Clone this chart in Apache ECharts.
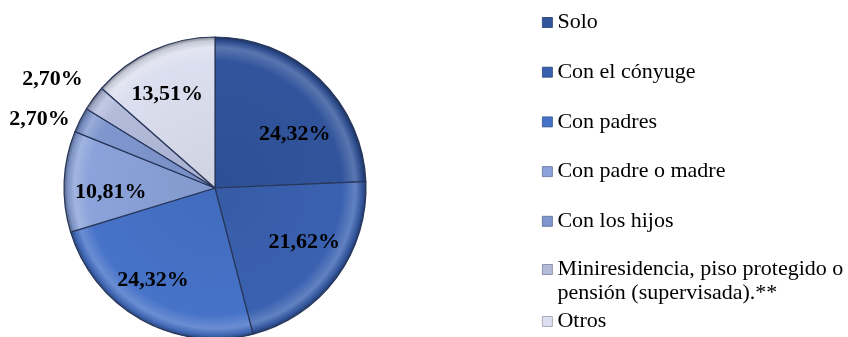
<!DOCTYPE html>
<html>
<head>
<meta charset="utf-8">
<script src="https://cdn.jsdelivr.net/npm/echarts@6/dist/echarts.min.js"></script>
<style>
  html, body { margin: 0; padding: 0; background: #ffffff; }
  #chart { width: 848px; height: 337px; }
</style>
</head>
<body>
<div id="chart"></div>
<script>
// Living arrangement categories and their shares (%)
const categories = [
  'Solo',
  'Con el cónyuge',
  'Con padres',
  'Con padre o madre',
  'Con los hijos',
  'Miniresidencia, piso protegido o\npensión (supervisada).**',
  'Otros'
];
const shares = [24.32, 21.62, 24.32, 10.81, 2.70, 2.70, 13.51];
const sliceColors = ['#31549c', '#3a61b0', '#4672c8', '#8ba3da', '#7f97cf', '#b3bbdb', '#dcdfef'];

// Label placement around the pie: angular nudge (deg) and reach (fraction of radius)
const labelAngleShift = [11.8, -5.5, 5.1, -4.4, -5.1, -2.4, -2.6];
const labelReach = [0.64, 0.69, 0.73, 0.69, 1.25, 1.30, 0.70];

const CX = 215, CY = 188, R = 151;

function shade(hex, amt) {
  const n = parseInt(hex.slice(1), 16);
  let r = (n >> 16) & 255, g = (n >> 8) & 255, b = n & 255;
  const f = (c) => Math.max(0, Math.min(255, Math.round(amt >= 0 ? c + (255 - c) * amt : c * (1 + amt))));
  return 'rgb(' + f(r) + ',' + f(g) + ',' + f(b) + ')';
}

// mid-angle of each slice, clockwise from 12 o'clock
const total = shares.reduce((a, b) => a + b, 0);
const midAngles = [];
let acc = 0;
shares.forEach(v => { midAngles.push((acc + v / 2) / total * 360); acc += v; });

// bevelled fill: slightly darker core, light rim, dark outer edge
const pieData = categories.map((name, i) => ({
  name: name,
  value: shares[i],
  itemStyle: {
    color: {
      type: 'radial', x: CX, y: CY, r: R, global: true,
      colorStops: [
        { offset: 0, color: shade(sliceColors[i], -0.06) },
        { offset: 0.84, color: sliceColors[i] },
        { offset: 0.93, color: shade(sliceColors[i], 0.2) },
        { offset: 0.975, color: shade(sliceColors[i], -0.1) },
        { offset: 1, color: shade(sliceColors[i], -0.4) }
      ]
    }
  }
}));

// legend swatches use the flat slice colour
const legendItems = categories.map((name, i) => ({
  name: name,
  itemStyle: { color: sliceColors[i], borderColor: shade(sliceColors[i], -0.3), borderWidth: 0.8 }
}));

const chart = echarts.init(document.getElementById('chart'), null, { renderer: 'canvas' });

const legendText = {
  fontFamily: 'Liberation Serif',
  fontSize: 22,
  lineHeight: 24,
  color: '#000000'
};

// the two-line entry gets an empty first line so its swatch sits beside the first text line
const legendFormatter = (name) => (name === categories[5] ? '\n' + name : name);

chart.setOption({
  animation: false,
  backgroundColor: '#ffffff',
  legend: [
    {
      orient: 'vertical',
      left: 537,
      top: 5.5,
      itemWidth: 10,
      itemHeight: 10,
      itemGap: 25.7,
      icon: 'rect',
      selectedMode: false,
      textStyle: legendText,
      data: legendItems.slice(0, 5)
    },
    {
      orient: 'vertical',
      left: 537,
      top: 228.5,
      itemWidth: 10,
      itemHeight: 10,
      itemGap: 4,
      icon: 'rect',
      selectedMode: false,
      textStyle: legendText,
      formatter: legendFormatter,
      data: legendItems.slice(5)
    }
  ],
  series: [{
    type: 'pie',
    center: [CX, CY],
    radius: R,
    startAngle: 90,
    clockwise: true,
    avoidLabelOverlap: false,
    itemStyle: {
      borderColor: '#27365a',
      borderWidth: 1.2
    },
    label: {
      show: true,
      position: 'inside',
      formatter: (p) => p.value.toFixed(2).replace('.', ',') + '%',
      fontFamily: 'Liberation Serif',
      fontWeight: 'bold',
      fontSize: 22,
      color: '#000000'
    },
    labelLine: { show: false },
    labelLayout: function (params) {
      const i = params.dataIndex;
      const a = (midAngles[i] + labelAngleShift[i]) * Math.PI / 180;
      const d = labelReach[i] * R;
      return {
        x: CX + d * Math.sin(a),
        y: CY - d * Math.cos(a) + 1,
        align: 'center',
        verticalAlign: 'middle'
      };
    },
    emphasis: { disabled: true },
    data: pieData
  }]
});
</script>
</body>
</html>
